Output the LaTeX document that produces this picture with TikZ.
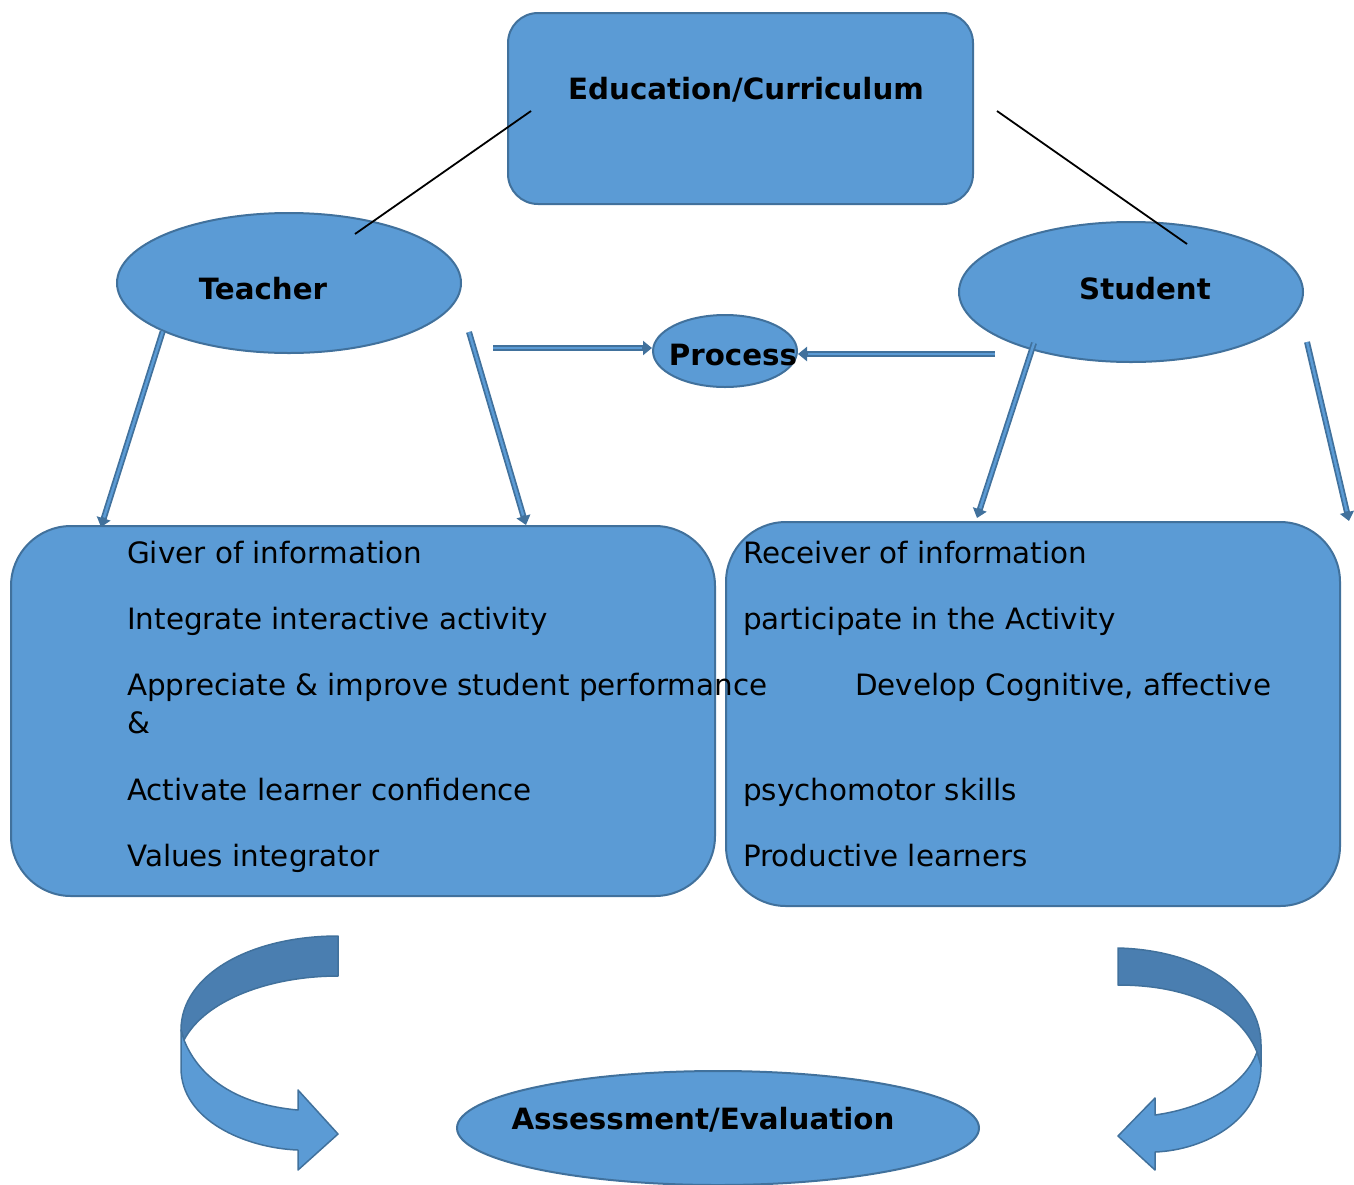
\documentclass[tikz,border=0pt]{standalone}
\usepackage{fontspec}
\setmainfont{DejaVu Sans}
\usetikzlibrary{shapes.geometric,arrows.meta}
\definecolor{boxblue}{HTML}{5B9BD5}
\definecolor{edgeblue}{HTML}{41719C}
\definecolor{backblue}{HTML}{4A7EB0}

\begin{document}
\begin{tikzpicture}[x=1pt,y=-1pt]
  \tikzstyle{panel}=[draw=edgeblue,fill=boxblue,line width=2pt,rectangle,inner sep=0pt]
  \tikzstyle{blob}=[draw=edgeblue,fill=boxblue,line width=2pt,ellipse,inner sep=0pt]
  \tikzstyle{heading}=[font=\bfseries\fontsize{29.3}{35}\selectfont,anchor=base,inner sep=0pt]
  \tikzstyle{item}=[font=\fontsize{29.4}{35}\selectfont,anchor=base west,inner sep=0pt]
  \tikzstyle{shaft}=[draw=edgeblue,line width=6pt,-{Triangle[length=9pt,width=14pt]}]
  \tikzstyle{core}=[draw=boxblue,line width=2.5pt,shorten >=10pt]
  \tikzstyle{band}=[draw=edgeblue,line width=1.5pt,line join=round]
  \useasboundingbox (0,0) rectangle (1354,1184);
  % shapes
  \node[panel,rounded corners=30pt,minimum width=465pt,minimum height=191pt] (edu) at (740.5,108.5) {};
  \node[blob,minimum width=344pt,minimum height=140pt] (teacher) at (289,283) {};
  \node[blob,minimum width=344pt,minimum height=140pt] (student) at (1131,292) {};
  \node[blob,minimum width=144pt,minimum height=72pt] (process) at (725,351) {};
  \node[panel,rounded corners=60pt,minimum width=704pt,minimum height=370pt] (tbox) at (363,711) {};
  \node[panel,rounded corners=60pt,minimum width=614pt,minimum height=384pt] (sbox) at (1033,714) {};
  \node[blob,minimum width=522pt,minimum height=114pt] (assess) at (718,1128) {};
  % free ends
  \coordinate (e1) at (531,111);  \coordinate (e2) at (355,234);
  \coordinate (e3) at (997,111);  \coordinate (e4) at (1187,244);
  \coordinate (t1) at (101,527);
  \coordinate (t2s) at (469,332); \coordinate (t2) at (526,525);
  \coordinate (s1s) at (1034,343); \coordinate (s1) at (977,518);
  \coordinate (s2s) at (1307,342); \coordinate (s2) at (1349,521);
  \coordinate (p1s) at (493,348); \coordinate (p2s) at (995,354);
  % black links
  \draw[line width=1.8pt] (e1) -- (e2);
  \draw[line width=1.8pt] (e3) -- (e4);
  % arrows
  \draw[shaft] (teacher.201) -- (t1);  \draw[core] (teacher.201) -- (t1);
  \draw[shaft] (t2s) -- (t2);          \draw[core] (t2s) -- (t2);
  \draw[shaft] (s1s) -- (s1);          \draw[core] (s1s) -- (s1);
  \draw[shaft] (s2s) -- (s2);          \draw[core] (s2s) -- (s2);
  \draw[shaft] (p1s) -- (p1s -| process.west); \draw[core] (p1s) -- (p1s -| process.west);
  \draw[shaft] (p2s) -- (p2s -| process.east); \draw[core] (p2s) -- (p2s -| process.east);
  % curved arrows
  \draw[band,fill=backblue] (338,936) -- (338,976) .. controls (270,976) and (205,1000) .. (184,1040)
        -- (181,1030) .. controls (181,975) and (250,936) .. (338,936) -- cycle;
  \draw[band,fill=boxblue] (184,1040) -- (181,1030) -- (181,1068) .. controls (181,1120) and (245,1148) .. (298,1150)
        -- (298,1170) -- (338,1134) -- (298,1090) -- (298,1110)
        .. controls (240,1105) and (200,1080) .. (184,1040) -- cycle;
  \draw[band,fill=backblue] (1118,948) .. controls (1200,950) and (1261,990) .. (1261,1045)
        -- (1261,1066) -- (1257,1052) .. controls (1240,1010) and (1190,985) .. (1118,985) -- cycle;
  \draw[band,fill=boxblue] (1257,1052) -- (1261,1066) .. controls (1261,1120) and (1205,1150) .. (1155,1152)
        -- (1155,1170) -- (1118,1136) -- (1155,1098) -- (1155,1115)
        .. controls (1205,1108) and (1245,1085) .. (1257,1052) -- cycle;
  % headings
  \node[heading] (edutxt) at (746,99.5) {Education/Curriculum};
  \node[heading] (teachertxt) at (263,299.5) {Teacher};
  \node[heading] (studenttxt) at (1145,299.5) {Student};
  \node[heading] (processtxt) at (733,365.5) {Process};
  \node[heading] (assesstxt) at (703,1129.5) {Assessment/Evaluation};
  % teacher roles
  \node[item] (ta) at (127,563) {Giver of information};
  \node[item] (tb) at (127,629) {Integrate interactive activity};
  \node[item] (tc) at (127,695) {Appreciate \& improve student performance};
  \node[item] (td) at (127,733) {\&};
  \node[item] (te) at (127,800) {Activate learner confidence};
  \node[item] (tf) at (127,866) {Values integrator};
  % student roles
  \node[item] (sa) at (743,563) {Receiver of information};
  \node[item] (sb) at (743,629) {participate in the Activity};
  \node[item] (sc) at (855,695) {Develop Cognitive, affective};
  \node[item] (sd) at (743,800) {psychomotor skills};
  \node[item] (se) at (743,866) {Productive learners};
\end{tikzpicture}
\end{document}
